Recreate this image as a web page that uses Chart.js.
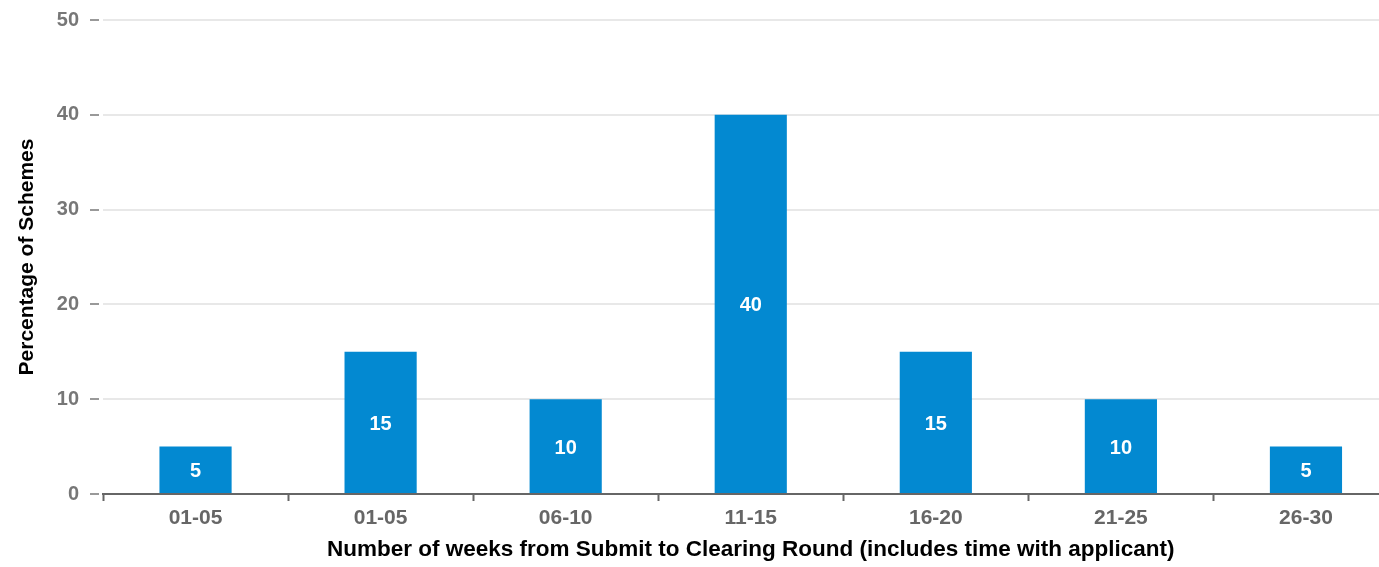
<!DOCTYPE html>
<html>
<head>
<meta charset="utf-8">
<script src="https://cdn.jsdelivr.net/npm/chart.js@4"></script>
<style>
  html, body { margin: 0; padding: 0; background: #fff; overflow: hidden; }
  #wrap { width: 1400px; height: 567px; position: relative; }
</style>
</head>
<body>
<div id="wrap"><canvas id="c"></canvas></div>
<script>
const categories = ['01-05', '01-05', '06-10', '11-15', '16-20', '21-25', '26-30'];
const percentages = [5, 15, 10, 40, 15, 10, 5];
const yTicks = [0, 10, 20, 30, 40, 50];
const xTitle = 'Number of weeks from Submit to Clearing Round (includes time with applicant)';
const yTitle = 'Percentage of Schemes';

const FONT = '"Liberation Sans", Arial, sans-serif';

const valueLabels = {
  id: 'valueLabels',
  afterDatasetsDraw(chart) {
    const ctx = chart.ctx;
    const meta = chart.getDatasetMeta(0);
    ctx.save();
    ctx.fillStyle = '#ffffff';
    ctx.font = 'bold 20px ' + FONT;
    ctx.textAlign = 'center';
    ctx.textBaseline = 'middle';
    meta.data.forEach((bar, i) => {
      const y = (bar.y + bar.base) / 2 + 2;
      ctx.fillText(String(percentages[i]), bar.x, y);
    });
    ctx.restore();
  }
};

new Chart(document.getElementById('c'), {
  type: 'bar',
  data: {
    labels: categories,
    datasets: [{
      data: percentages,
      backgroundColor: '#0389d1',
      borderWidth: 0,
      barPercentage: 0.39,
      categoryPercentage: 1.0
    }]
  },
  options: {
    responsive: true,
    maintainAspectRatio: false,
    animation: false,
    layout: { padding: { top: 20, right: 1.5, left: 0, bottom: 0 } },
    plugins: { legend: { display: false }, tooltip: { enabled: false } },
    scales: {
      x: {
        offset: true,
        grid: { drawOnChartArea: false, drawTicks: true, tickLength: 7, tickColor: '#666', tickWidth: 2, offset: true },
        border: { display: true, color: '#666', width: 2 },
        ticks: { color: '#666', font: { family: FONT, size: 21, weight: 'bold' }, padding: 5, maxRotation: 0 },
        title: { display: true, text: xTitle, color: '#000', font: { family: FONT, size: 22.5, weight: 'bold' }, padding: { top: 2, bottom: 3.5 } },
        afterFit(scale) { scale.height = 73; scale.paddingLeft = 0; scale.paddingRight = 0; }
      },
      y: {
        min: 0, max: 50,
        afterBuildTicks(scale) { scale.ticks = yTicks.map(v => ({ value: v })); },
        grid: { color: '#e8e8e8', lineWidth: 2, drawTicks: true, tickLength: 13, tickColor: '#999', tickWidth: 2, tickBorderDash: [9, 100] },
        border: { display: false },
        ticks: { color: '#777', font: { family: FONT, size: 20, weight: 'bold' }, padding: 11 },
        title: { display: true, text: yTitle, color: '#000', font: { family: FONT, size: 21, weight: 'bold' }, padding: { top: 15, bottom: 0 } },
        afterFit(scale) { scale.width = 103; scale.paddingTop = 0; scale.paddingBottom = 0; }
      }
    }
  },
  plugins: [valueLabels]
});
</script>
</body>
</html>
